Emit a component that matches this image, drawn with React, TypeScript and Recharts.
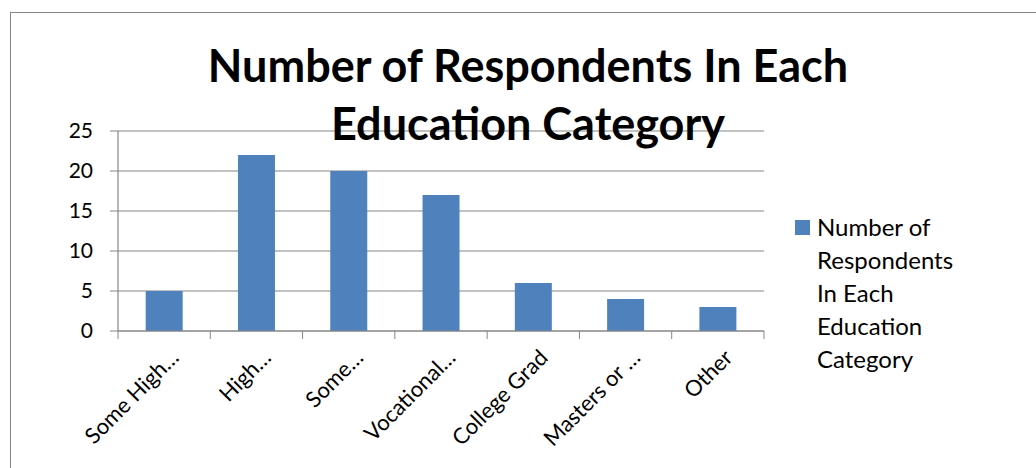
import { BarChart, Bar, XAxis, YAxis, CartesianGrid } from "recharts";

const categories = [
  "Some High…",
  "High…",
  "Some…",
  "Vocational…",
  "College Grad",
  "Masters or …",
  "Other",
];
const respondents = [5, 22, 20, 17, 6, 4, 3];
const yTicks = [0, 5, 10, 15, 20, 25];
const seriesName = "Number of Respondents In Each Education Category";
const legendLines = ["Number of", "Respondents", "In Each", "Education", "Category"];
const titleLines = ["Number of Respondents In Each", "Education Category"];

const data = categories.map((c, i) => ({ category: c, value: respondents[i] }));

const FONT = "Lato, 'Open Sans', sans-serif";
const GRID = "#868686";
const BAR = "#4F81BD";
const BAND = (764 - 118) / categories.length;

function XTick(props: any) {
  const { x, y, payload, index } = props;
  const last = index === categories.length - 1;
  return (
    <g>
      <line x1={x - BAND / 2} y1={y - 8} x2={x - BAND / 2} y2={y} stroke={GRID} />
      {last && <line x1={x + BAND / 2} y1={y - 8} x2={x + BAND / 2} y2={y} stroke={GRID} />}
      <text
        transform={`translate(${x + 16},${y + 20}) rotate(-45)`}
        textAnchor="end"
        fontSize={22}
        fontFamily={FONT}
        fill="#000"
      >
        {payload.value}
      </text>
    </g>
  );
}

export default function App() {
  return (
    <div style={{ position: "relative", width: 1036, height: 468, background: "#fff", overflow: "hidden" }}>
      <style>{`body{margin:0}`}</style>
      <div
        style={{
          position: "absolute",
          left: 10,
          top: 12,
          width: 1100,
          height: 600,
          border: "1px solid #868686",
        }}
      />
      <BarChart
        width={1036}
        height={468}
        data={data}
        margin={{ top: 131, right: 272, bottom: 0, left: 0 }}
        barCategoryGap="30%"
      >
        <CartesianGrid vertical={false} stroke={GRID} strokeWidth={1.2} />
        <XAxis
          dataKey="category"
          axisLine={{ stroke: GRID, strokeWidth: 1.2 }}
          tickLine={false}
          interval={0}
          height={137}
          tick={<XTick />}
        />
        <YAxis
          width={118}
          domain={[0, 25]}
          ticks={yTicks}
          axisLine={{ stroke: GRID, strokeWidth: 1.2 }}
          tickLine={{ stroke: GRID }}
          tickSize={8}
          tickMargin={17}
          tick={{ fontSize: 21, fontFamily: FONT, fill: "#000" }}
        />
        <Bar dataKey="value" name={seriesName} fill={BAR} isAnimationActive={false} />
      </BarChart>
      {/* legend */}
      <div
        style={{
          position: "absolute",
          left: 795,
          top: 210,
          display: "flex",
          fontFamily: FONT,
          fontSize: 24,
          color: "#000",
        }}
      >
        <div style={{ width: 15, height: 15, background: BAR, marginTop: 10, marginRight: 7 }} />
        <div style={{ lineHeight: "33px" }}>
          {legendLines.map((l) => (
            <div key={l}>{l}</div>
          ))}
        </div>
      </div>
      <div
        style={{
          position: "absolute",
          left: 0,
          top: 36,
          width: 1056,
          textAlign: "center",
          fontFamily: FONT,
          fontWeight: "bold",
          fontSize: 45,
          lineHeight: "58px",
          color: "#000",
        }}
      >
        {titleLines.map((l) => (
          <div key={l}>{l}</div>
        ))}
      </div>
    </div>
  );
}
